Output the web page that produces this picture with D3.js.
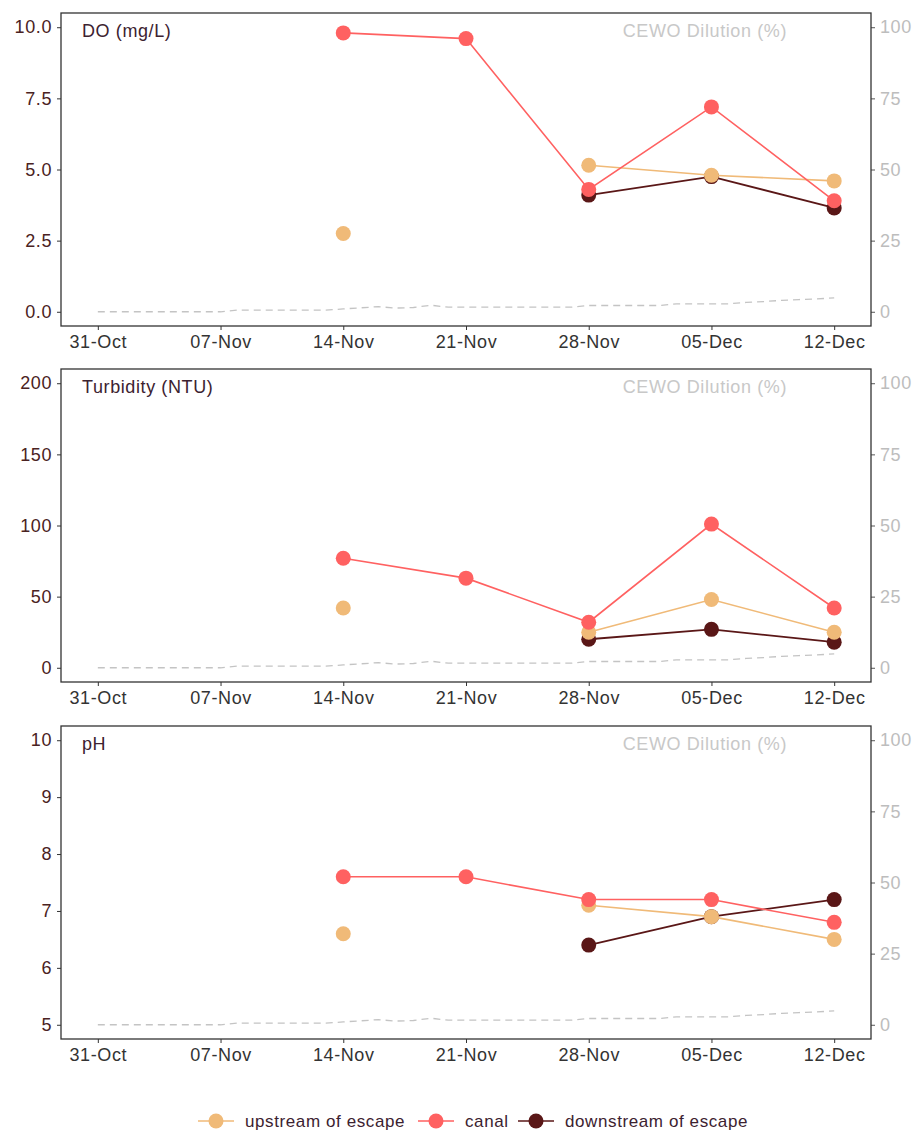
<!DOCTYPE html>
<html>
<head>
<meta charset="utf-8">
<script src="https://cdn.jsdelivr.net/npm/d3@7"></script>
<style>
  body { margin: 0; background: #fff; }
  svg { display: block; font-family: "Liberation Sans", Arial, sans-serif; }
</style>
</head>
<body>
<svg id="chart" width="917" height="1131"></svg>
<script>
// ---------------- data ----------------
const sampleDates = ["2019-11-14", "2019-11-21", "2019-11-28", "2019-12-05", "2019-12-12"];
const xTickDates = ["2019-10-31", "2019-11-07", "2019-11-14", "2019-11-21", "2019-11-28", "2019-12-05", "2019-12-12"];

const doUpstream   = [2.75, null, 5.15, 4.8, 4.6];
const doCanal      = [9.8, 9.6, 4.3, 7.2, 3.9];
const doDownstream = [null, null, 4.1, 4.75, 3.65];

const turbUpstream   = [42, null, 25, 48, 25];
const turbCanal      = [77, 63, 32, 101, 42];
const turbDownstream = [null, null, 20, 27, 18];

const phUpstream   = [6.6, null, 7.1, 6.9, 6.5];
const phCanal      = [7.6, 7.6, 7.2, 7.2, 6.8];
const phDownstream = [null, null, 6.4, 6.9, 7.2];

// CEWO dilution (%), daily from 31-Oct to 12-Dec
const dilutionStart = "2019-10-31";
const dilution = [
  0, 0, 0, 0, 0, 0, 0, 0,
  0.6, 0.6, 0.6, 0.6, 0.6, 0.6,
  1.0, 1.4, 1.8, 1.3, 1.5, 2.3,
  1.6, 1.6, 1.6, 1.6, 1.6, 1.6, 1.6, 1.6,
  2.2, 2.2, 2.2, 2.2, 2.2,
  2.8, 2.8, 2.8, 2.8,
  3.3,
  3.6, 4.0, 4.3, 4.5, 4.9
];

const leftTicksDO = [0, 2.5, 5, 7.5, 10];
const leftTicksTurb = [0, 50, 100, 150, 200];
const leftTicksPH = [5, 6, 7, 8, 9, 10];
const rightTicks = [0, 25, 50, 75, 100];

const seriesNames = ["upstream of escape", "canal", "downstream of escape"];
const seriesColors = ["#f0ba78", "#ff6161", "#5a1717"];

// ---------------- layout ----------------
const parse = d3.utcParse("%Y-%m-%d");
const fmtDate = d3.utcFormat("%d-%b");
const svg = d3.select("#chart");
const FS = 18;
const LS = "0.6px";

const left = 61, right = 871;
const x0 = parse(xTickDates[0]), x1 = parse(xTickDates[xTickDates.length - 1]);
const padMs = (x1 - x0) * 0.05;
const x = d3.scaleUtc()
  .domain([new Date(+x0 - padMs), new Date(+x1 + padMs)])
  .range([left, right]);

const panels = [
  { title: "DO (mg/L)", top: 13, bottom: 326, dom: [0, 10], ticks: leftTicksDO, fmt: d3.format(".1f"),
    series: [doDownstream, doUpstream, doCanal], idx: [2, 0, 1] },
  { title: "Turbidity (NTU)", top: 369, bottom: 682, dom: [0, 200], ticks: leftTicksTurb, fmt: d3.format("d"),
    series: [turbDownstream, turbUpstream, turbCanal], idx: [2, 0, 1] },
  { title: "pH", top: 726, bottom: 1039, dom: [5, 10], ticks: leftTicksPH, fmt: d3.format("d"),
    series: [phDownstream, phUpstream, phCanal], idx: [2, 0, 1] }
];

const dilStart = parse(dilutionStart);
const dilData = dilution.map((v, i) => ({ d: d3.utcDay.offset(dilStart, i), v }));

function styleText(sel, color) {
  sel.attr("fill", color).style("font-size", FS + "px")
    .style("letter-spacing", LS).style("font-family", "'Liberation Sans', Arial, sans-serif");
}

panels.forEach(p => {
  const span = p.dom[1] - p.dom[0];
  const y = d3.scaleLinear().domain([p.dom[0] - span * 0.05, p.dom[1] + span * 0.05]).range([p.bottom, p.top]);
  const y2 = d3.scaleLinear().domain([-5, 105]).range([p.bottom, p.top]);
  const g = svg.append("g");

  // dilution dashed line
  g.append("path")
    .datum(dilData)
    .attr("d", d3.line().x(d => x(d.d)).y(d => y2(d.v)))
    .attr("fill", "none")
    .attr("stroke", "#c4c4c4")
    .attr("stroke-width", 1.3)
    .attr("stroke-dasharray", "7,5");

  // series
  p.series.forEach((vals, k) => {
    const color = seriesColors[p.idx[k]];
    const pts = vals.map((v, i) => ({ d: parse(sampleDates[i]), v }));
    g.append("path")
      .datum(pts)
      .attr("d", d3.line().defined(d => d.v != null).x(d => x(d.d)).y(d => y(d.v)))
      .attr("fill", "none")
      .attr("stroke", color)
      .attr("stroke-width", p.idx[k] === 2 ? 1.9 : 1.6);
    g.selectAll(null)
      .data(pts.filter(d => d.v != null))
      .join("circle")
      .attr("cx", d => x(d.d))
      .attr("cy", d => y(d.v))
      .attr("r", 7.5)
      .attr("fill", color);
  });

  // left axis
  const ax = g.append("g").attr("transform", `translate(${left},0)`)
    .call(d3.axisLeft(y).tickValues(p.ticks).tickFormat(p.fmt).tickSize(4).tickPadding(5));
  ax.select(".domain").remove();
  ax.selectAll("line").attr("stroke", "#333");
  styleText(ax.selectAll("text"), "#4a2222");

  // right axis
  const ar = g.append("g").attr("transform", `translate(${right},0)`)
    .call(d3.axisRight(y2).tickValues(rightTicks).tickFormat(d3.format("d")).tickSize(4).tickPadding(5));
  ar.select(".domain").remove();
  ar.selectAll("line").attr("stroke", "#555");
  styleText(ar.selectAll("text"), "#bdbdbd");

  // bottom axis
  const ab = g.append("g").attr("transform", `translate(0,${p.bottom})`)
    .call(d3.axisBottom(x).tickValues(xTickDates.map(parse)).tickFormat(fmtDate).tickSize(4).tickPadding(5));
  ab.select(".domain").remove();
  ab.selectAll("line").attr("stroke", "#333");
  styleText(ab.selectAll("text"), "#333");

  // border
  g.append("rect")
    .attr("x", left).attr("y", p.top)
    .attr("width", right - left).attr("height", p.bottom - p.top)
    .attr("fill", "none").attr("stroke", "#333").attr("stroke-width", 1.3);

  // titles
  styleText(g.append("text").attr("x", left + 21).attr("y", p.top + 24).text(p.title), "#3c2230");
  styleText(g.append("text").attr("x", right - 84).attr("y", p.top + 24)
    .attr("text-anchor", "end").text("CEWO Dilution (%)"), "#c8c8c8");
});

// ---------------- legend ----------------
const legendY = 1121;
const legendX = [198, 418, 518];
seriesNames.forEach((name, i) => {
  const lg = svg.append("g").attr("transform", `translate(${legendX[i]},${legendY})`);
  lg.append("line").attr("x1", 0).attr("x2", 36).attr("y1", 0).attr("y2", 0)
    .attr("stroke", seriesColors[i]).attr("stroke-width", 1.6);
  lg.append("circle").attr("cx", 18).attr("cy", 0).attr("r", 7.5).attr("fill", seriesColors[i]);
  lg.append("text").attr("x", 47).attr("y", 6)
    .attr("fill", "#3c2230").style("font-size", "17px").style("letter-spacing", "0.6px")
    .text(name);
});
</script>
</body>
</html>
